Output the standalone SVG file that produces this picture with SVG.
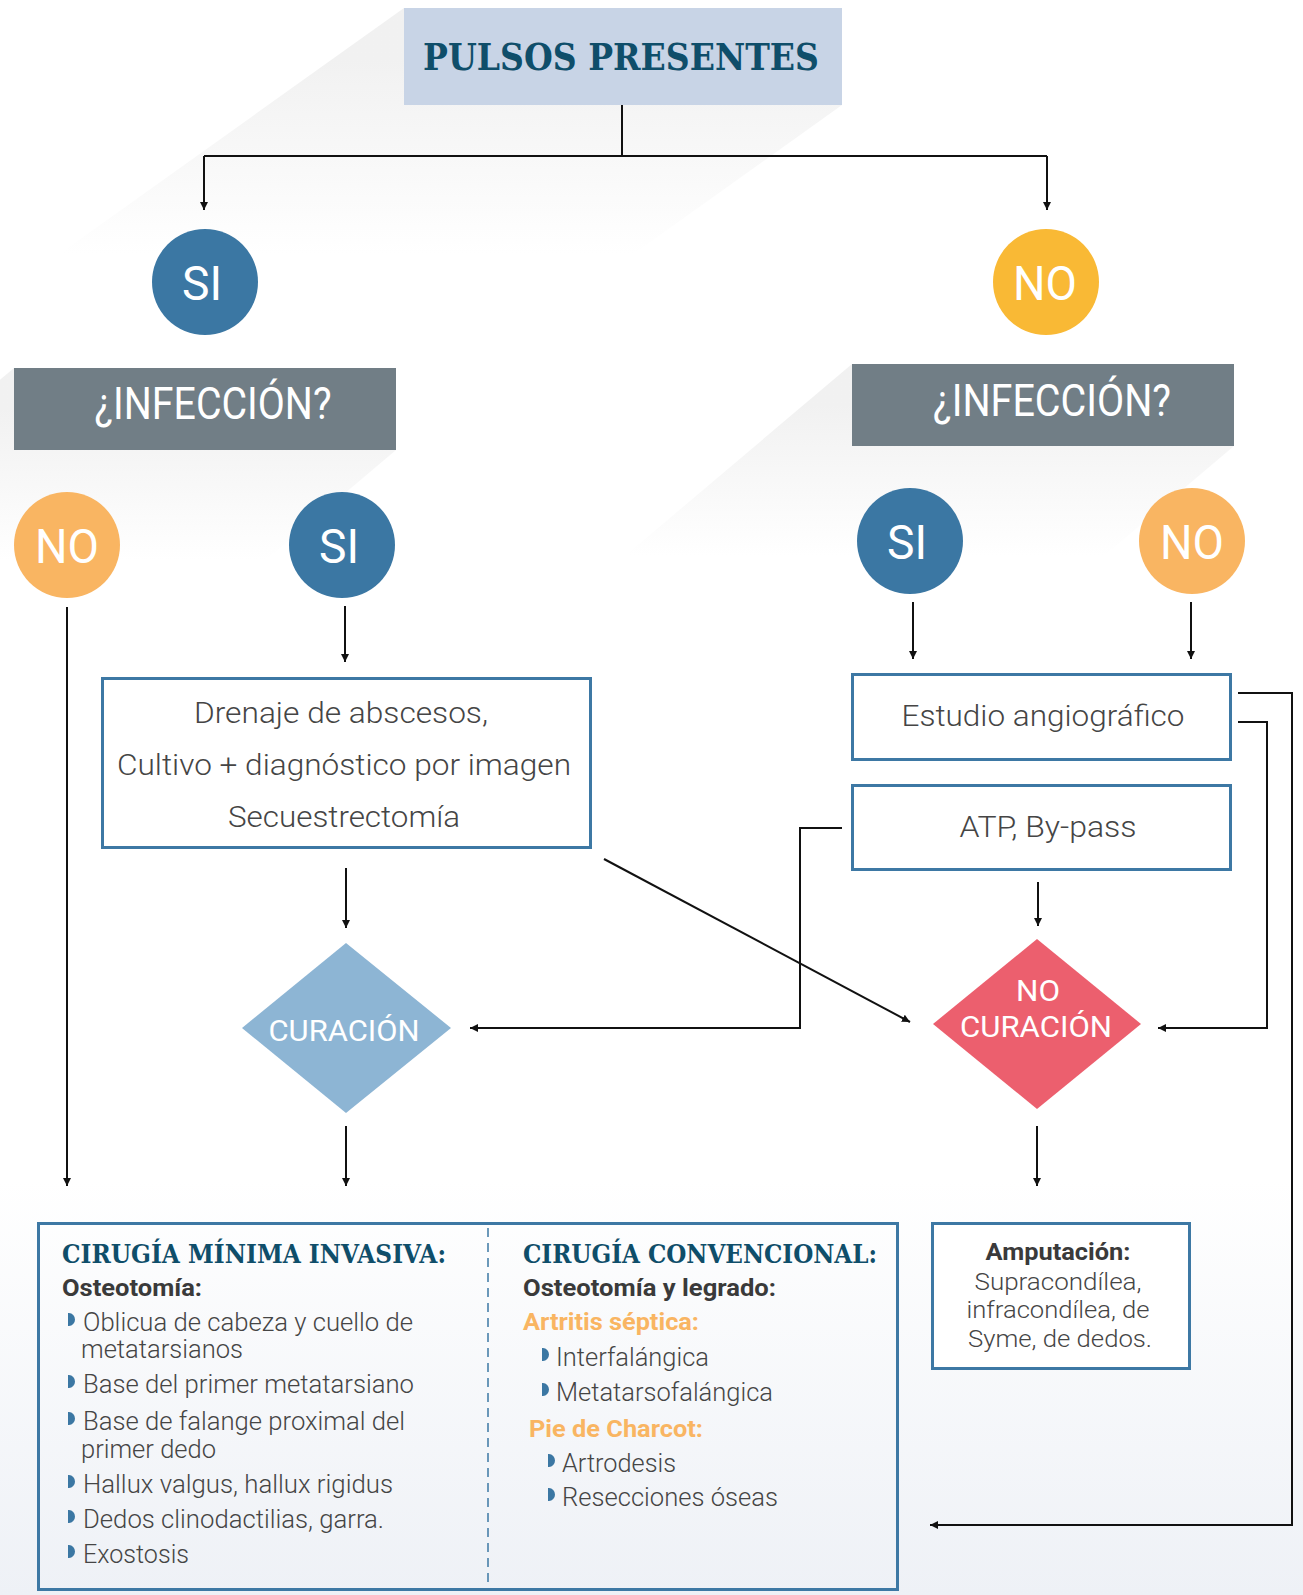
<svg xmlns="http://www.w3.org/2000/svg" width="1303" height="1595" viewBox="0 0 1303 1595">
<defs>
<style>
.slab{font-family:"DejaVu Serif","Liberation Serif",serif;font-weight:bold;fill:#0f4e6a}
.lbl{font-family:Roboto,"Noto Sans","Liberation Sans",sans-serif;fill:#ffffff}
.body{font-family:Roboto,"Noto Sans","Liberation Sans",sans-serif;font-weight:300;fill:#454545}
.bold{font-family:Roboto,"Noto Sans","Liberation Sans",sans-serif;font-weight:bold;fill:#3a3a3a}
.orange{font-family:Roboto,"Noto Sans","Liberation Sans",sans-serif;font-weight:bold;fill:#f9b562}
.box{fill:#ffffff;stroke:#3d78a4;stroke-width:3}
.conn{fill:none;stroke:#111111;stroke-width:2}
.bul{fill:#3b77a3}
</style>
<marker id="arr" markerUnits="userSpaceOnUse" markerWidth="9" markerHeight="8" refX="8" refY="4" orient="auto">
<path d="M0,0 L8,4 L0,8 z" fill="#111111"/>
</marker>
<linearGradient id="shP" gradientUnits="userSpaceOnUse" x1="0" y1="60" x2="0" y2="255">
<stop offset="0" stop-color="#e0e0e0" stop-opacity="0.45"/>
<stop offset="1" stop-color="#e0e0e0" stop-opacity="0"/>
</linearGradient>
<linearGradient id="shL" gradientUnits="userSpaceOnUse" x1="0" y1="409" x2="0" y2="560">
<stop offset="0" stop-color="#e0e0e0" stop-opacity="0.45"/>
<stop offset="1" stop-color="#e0e0e0" stop-opacity="0"/>
</linearGradient>
<linearGradient id="shR" gradientUnits="userSpaceOnUse" x1="0" y1="405" x2="0" y2="556">
<stop offset="0" stop-color="#e0e0e0" stop-opacity="0.45"/>
<stop offset="1" stop-color="#e0e0e0" stop-opacity="0"/>
</linearGradient>
<linearGradient id="bg" x1="0" y1="0" x2="0" y2="1">
<stop offset="0" stop-color="#ffffff"/>
<stop offset="1" stop-color="#eef1f6"/>
</linearGradient>
</defs>
<rect x="0" y="0" width="1303" height="1595" fill="#ffffff"/>
<rect x="0" y="1180" width="1303" height="415" fill="url(#bg)"/>
<g id="shadows">
<polygon points="404,8 58,255 632,255 842,105 842,8" fill="url(#shP)"/>
<polygon points="14,368 -213,560 266,560 396,450 396,368" fill="url(#shL)"/>
<polygon points="852,364 625,556 1104,556 1234,446 1234,364" fill="url(#shR)"/>
</g>

<g id="connectors">
<path class="conn" d="M622,105 V156 M204,156 H1047"/>
<path class="conn" d="M204,156 V210" marker-end="url(#arr)"/>
<path class="conn" d="M1047,156 V210" marker-end="url(#arr)"/>
<path class="conn" d="M67,607 V1186" marker-end="url(#arr)"/>
<path class="conn" d="M345,606 V662" marker-end="url(#arr)"/>
<path class="conn" d="M913,602 V659" marker-end="url(#arr)"/>
<path class="conn" d="M1191,602 V659" marker-end="url(#arr)"/>
<path class="conn" d="M346,868 V928" marker-end="url(#arr)"/>
<path class="conn" d="M604,859 L910,1022" marker-end="url(#arr)"/>
<path class="conn" d="M842,828 H800 V1028 H470" marker-end="url(#arr)"/>
<path class="conn" d="M1238,722 H1267 V1028 H1158" marker-end="url(#arr)"/>
<path class="conn" d="M1238,693 H1292 V1525 H930" marker-end="url(#arr)"/>
<path class="conn" d="M1038,882 V926" marker-end="url(#arr)"/>
<path class="conn" d="M346,1126 V1186" marker-end="url(#arr)"/>
<path class="conn" d="M1037,1126 V1186" marker-end="url(#arr)"/>
</g>

<g id="pulsos">
<rect x="404" y="8" width="438" height="97" fill="#c8d4e6"/>
<text class="slab" x="621" y="70" font-size="37" text-anchor="middle" textLength="396" lengthAdjust="spacingAndGlyphs">PULSOS PRESENTES</text>
</g>

<g id="si1">
<circle cx="205" cy="282" r="53" fill="#3b77a3"/>
<text class="lbl" x="202" y="300" font-size="49" text-anchor="middle" textLength="40" lengthAdjust="spacingAndGlyphs">SI</text>
</g>
<g id="no1">
<circle cx="1046" cy="282" r="53" fill="#f9b935"/>
<text class="lbl" x="1045" y="300" font-size="49" text-anchor="middle" textLength="64" lengthAdjust="spacingAndGlyphs">NO</text>
</g>

<g id="infeccion-left">
<rect x="14" y="368" width="382" height="82" fill="#717e86"/>
<text class="lbl" x="213" y="419" font-size="44" text-anchor="middle" textLength="237" lengthAdjust="spacingAndGlyphs">¿INFECCIÓN?</text>
</g>
<g id="infeccion-right">
<rect x="852" y="364" width="382" height="82" fill="#717e86"/>
<text class="lbl" x="1052" y="416" font-size="44" text-anchor="middle" textLength="238" lengthAdjust="spacingAndGlyphs">¿INFECCIÓN?</text>
</g>

<g id="no2">
<circle cx="67" cy="545" r="53" fill="#f9b562"/>
<text class="lbl" x="67" y="563" font-size="49" text-anchor="middle" textLength="64" lengthAdjust="spacingAndGlyphs">NO</text>
</g>
<g id="si2">
<circle cx="342" cy="545" r="53" fill="#3b77a3"/>
<text class="lbl" x="339" y="563" font-size="49" text-anchor="middle" textLength="40" lengthAdjust="spacingAndGlyphs">SI</text>
</g>
<g id="si3">
<circle cx="910" cy="541" r="53" fill="#3b77a3"/>
<text class="lbl" x="907" y="559" font-size="49" text-anchor="middle" textLength="40" lengthAdjust="spacingAndGlyphs">SI</text>
</g>
<g id="no3">
<circle cx="1192" cy="541" r="53" fill="#f9b562"/>
<text class="lbl" x="1192" y="559" font-size="49" text-anchor="middle" textLength="64" lengthAdjust="spacingAndGlyphs">NO</text>
</g>

<g id="drenaje">
<rect class="box" x="102.5" y="678.5" width="488" height="169"/>
<text class="body" x="341" y="723" font-size="30" text-anchor="middle" textLength="294" lengthAdjust="spacingAndGlyphs">Drenaje de abscesos,</text>
<text class="body" x="344" y="775" font-size="30" text-anchor="middle" textLength="454" lengthAdjust="spacingAndGlyphs">Cultivo + diagnóstico por imagen</text>
<text class="body" x="344" y="827" font-size="30" text-anchor="middle" textLength="232" lengthAdjust="spacingAndGlyphs">Secuestrectomía</text>
</g>

<g id="estudio">
<rect class="box" x="852.5" y="674.5" width="378" height="85"/>
<text class="body" x="1043" y="726" font-size="30" text-anchor="middle" textLength="283" lengthAdjust="spacingAndGlyphs">Estudio angiográfico</text>
</g>
<g id="atp">
<rect class="box" x="852.5" y="785.5" width="378" height="84"/>
<text class="body" x="1048" y="837" font-size="30" text-anchor="middle" textLength="177" lengthAdjust="spacingAndGlyphs">ATP, By-pass</text>
</g>

<g id="curacion">
<polygon points="346,943 451,1028 346,1113 242,1028" fill="#8db5d4"/>
<text class="lbl" x="344" y="1041" font-size="30" text-anchor="middle" textLength="151" lengthAdjust="spacingAndGlyphs">CURACIÓN</text>
</g>
<g id="no-curacion">
<polygon points="1037,939 1141,1024 1037,1109 933,1024" fill="#ec5f6e"/>
<text class="lbl" x="1038" y="1001" font-size="30" text-anchor="middle" textLength="44" lengthAdjust="spacingAndGlyphs">NO</text>
<text class="lbl" x="1036" y="1037" font-size="30" text-anchor="middle" textLength="152" lengthAdjust="spacingAndGlyphs">CURACIÓN</text>
</g>

<g id="cirugia">
<rect x="38.5" y="1223.5" width="859" height="366" fill="none" stroke="#3d78a4" stroke-width="3"/>
<line x1="488" y1="1228" x2="488" y2="1588" stroke="#3d78a4" stroke-width="1.5" stroke-dasharray="9,6"/>
<text class="slab" x="62" y="1263" font-size="26" textLength="384" lengthAdjust="spacingAndGlyphs">CIRUGÍA MÍNIMA INVASIVA:</text>
<text class="bold" x="62" y="1296" font-size="24" textLength="140" lengthAdjust="spacingAndGlyphs">Osteotomía:</text>
<path class="bul" d="M68,1313 h1 a6,6.5 0 0 1 0,13 h-1 z"/>
<text class="body" x="83" y="1331" font-size="26" textLength="330" lengthAdjust="spacingAndGlyphs">Oblicua de cabeza y cuello de</text>
<text class="body" x="81" y="1358" font-size="26" textLength="162" lengthAdjust="spacingAndGlyphs">metatarsianos</text>
<path class="bul" d="M68,1375 h1 a6,6.5 0 0 1 0,13 h-1 z"/>
<text class="body" x="83" y="1393" font-size="26" textLength="331" lengthAdjust="spacingAndGlyphs">Base del primer metatarsiano</text>
<path class="bul" d="M68,1412 h1 a6,6.5 0 0 1 0,13 h-1 z"/>
<text class="body" x="83" y="1430" font-size="26" textLength="322" lengthAdjust="spacingAndGlyphs">Base de falange proximal del</text>
<text class="body" x="81" y="1458" font-size="26" textLength="135" lengthAdjust="spacingAndGlyphs">primer dedo</text>
<path class="bul" d="M68,1475 h1 a6,6.5 0 0 1 0,13 h-1 z"/>
<text class="body" x="83" y="1493" font-size="26" textLength="310" lengthAdjust="spacingAndGlyphs">Hallux valgus, hallux rigidus</text>
<path class="bul" d="M68,1510 h1 a6,6.5 0 0 1 0,13 h-1 z"/>
<text class="body" x="83" y="1528" font-size="26" textLength="301" lengthAdjust="spacingAndGlyphs">Dedos clinodactilias, garra.</text>
<path class="bul" d="M68,1545 h1 a6,6.5 0 0 1 0,13 h-1 z"/>
<text class="body" x="83" y="1563" font-size="26" textLength="106" lengthAdjust="spacingAndGlyphs">Exostosis</text>

<text class="slab" x="523" y="1263" font-size="26" textLength="354" lengthAdjust="spacingAndGlyphs">CIRUGÍA CONVENCIONAL:</text>
<text class="bold" x="523" y="1296" font-size="24" textLength="253" lengthAdjust="spacingAndGlyphs">Osteotomía y legrado:</text>
<text class="orange" x="523" y="1330" font-size="24" textLength="176" lengthAdjust="spacingAndGlyphs">Artritis séptica:</text>
<path class="bul" d="M542,1348 h1 a6,6.5 0 0 1 0,13 h-1 z"/>
<text class="body" x="556" y="1366" font-size="26" textLength="153" lengthAdjust="spacingAndGlyphs">Interfalángica</text>
<path class="bul" d="M542,1383 h1 a6,6.5 0 0 1 0,13 h-1 z"/>
<text class="body" x="556" y="1401" font-size="26" textLength="217" lengthAdjust="spacingAndGlyphs">Metatarsofalángica</text>
<text class="orange" x="529" y="1437" font-size="24" textLength="174" lengthAdjust="spacingAndGlyphs">Pie de Charcot:</text>
<path class="bul" d="M548,1454 h1 a6,6.5 0 0 1 0,13 h-1 z"/>
<text class="body" x="562" y="1472" font-size="26" textLength="114" lengthAdjust="spacingAndGlyphs">Artrodesis</text>
<path class="bul" d="M548,1488 h1 a6,6.5 0 0 1 0,13 h-1 z"/>
<text class="body" x="562" y="1506" font-size="26" textLength="216" lengthAdjust="spacingAndGlyphs">Resecciones óseas</text>
</g>

<g id="amputacion">
<rect class="box" x="932.5" y="1223.5" width="257" height="145"/>
<text class="bold" x="1058" y="1260" font-size="23" text-anchor="middle" textLength="145" lengthAdjust="spacingAndGlyphs">Amputación:</text>
<text class="body" x="1058" y="1290" font-size="24" text-anchor="middle" textLength="167" lengthAdjust="spacingAndGlyphs">Supracondílea,</text>
<text class="body" x="1058" y="1318" font-size="24" text-anchor="middle" textLength="183" lengthAdjust="spacingAndGlyphs">infracondílea, de</text>
<text class="body" x="1060" y="1347" font-size="24" text-anchor="middle" textLength="184" lengthAdjust="spacingAndGlyphs">Syme, de dedos.</text>
</g>
</svg>
